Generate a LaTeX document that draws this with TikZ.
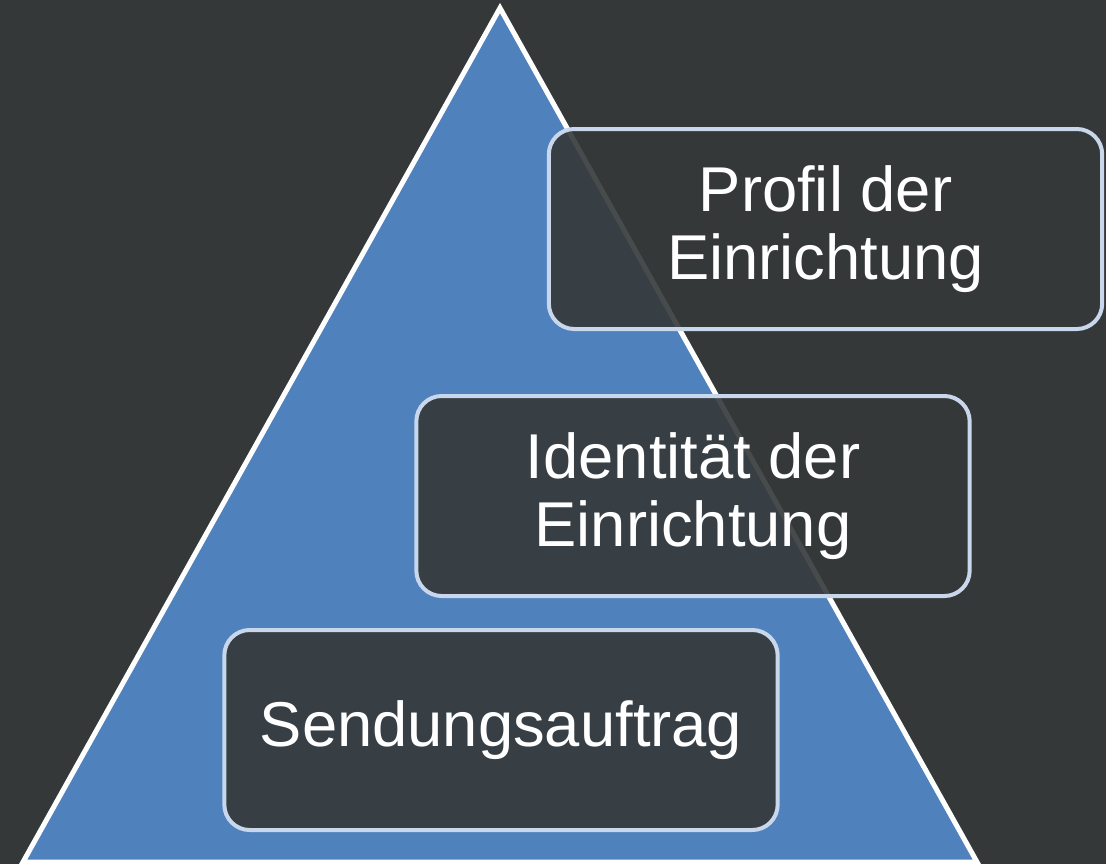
\documentclass[tikz,border=0pt]{standalone}
\usepackage{fontspec}
\setmainfont{Liberation Sans}
\definecolor{bgdark}{RGB}{53,56,57}
\definecolor{pyrblue}{RGB}{79,129,189}
\definecolor{boxline}{RGB}{201,215,236}
\begin{document}
\begin{tikzpicture}[x=0.75pt, y=-0.75pt,
	stufe/.style={draw=boxline, line width=3pt, fill=bgdark, fill opacity=0.9, text opacity=1,
		rounded corners=19pt, minimum width=415pt, minimum height=150pt, inner sep=0pt,
		text=white, align=center, font=\fontsize{47.5}{51}\selectfont}]
	%background
	\useasboundingbox (0,0) rectangle (1106,864);
	\fill[bgdark] (0,0) rectangle (1106,864);
	%pyramid
	\draw[white, line width=3.75pt, fill=pyrblue] (500,8) -- (977,862) -- (23,862) -- cycle;
	%levels
	\node[stufe] (profil) at (825.5,229) {Profil der\\Einrichtung};
	\node[stufe] (identitaet) at (693,496) {Identität der\\Einrichtung};
	\node[stufe] (auftrag) at (501,730) {Sendungsauftrag};
\end{tikzpicture}
\end{document}
